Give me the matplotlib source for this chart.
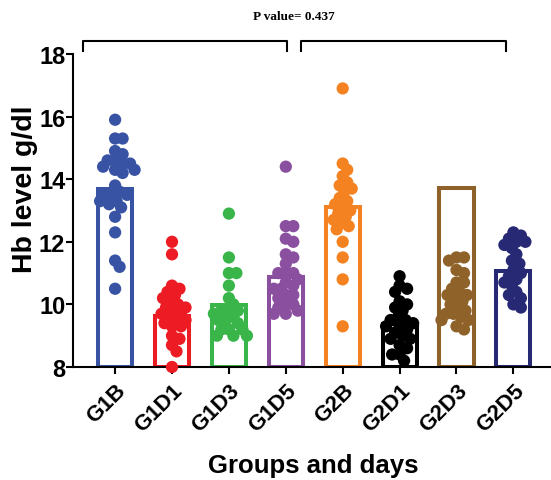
import numpy as np
import matplotlib.pyplot as plt

groups = ["G1B", "G1D1", "G1D3", "G1D5", "G2B", "G2D1", "G2D3", "G2D5"]
bar_heights = [13.69, 9.63, 9.98, 10.87, 13.11, 9.37, 13.72, 11.07]
colors = ["#3953A4", "#ED1C24", "#39B54A", "#8B4F9F",
          "#F58220", "#000000", "#8E6228", "#272975"]

g1b = [15.9, 15.3, 15.3, 14.9, 14.8, 14.6, 14.6, 14.5, 14.5, 14.4, 14.3, 14.3,
       14.2, 13.8, 13.6, 13.5, 13.5, 13.5, 13.3, 13.3, 13.2, 13.1, 12.8, 12.3,
       11.4, 11.2, 10.5]
g1d1 = [12.0, 11.6, 10.6, 10.5, 10.4, 10.3, 10.2, 10.1, 10.0, 9.9, 9.9, 9.8,
        9.7, 9.7, 9.6, 9.5, 9.5, 9.4, 9.3, 9.3, 9.0, 8.9, 8.7, 8.5, 8.0]
g1d3 = [12.9, 11.5, 11.0, 11.0, 10.6, 10.2, 10.0, 9.8, 9.8, 9.8, 9.7, 9.6,
        9.5, 9.5, 9.4, 9.2, 9.2, 9.2, 9.0, 9.0, 9.0]
g1d5 = [14.4, 12.5, 12.5, 12.1, 12.0, 11.6, 11.5, 11.3, 11.0, 11.0, 11.0,
        10.8, 10.7, 10.6, 10.5, 10.5, 10.3, 10.3, 10.2, 10.0, 10.0, 9.9, 9.8,
        9.7, 9.7]
g2b = [16.9, 14.5, 14.3, 14.1, 13.9, 13.8, 13.7, 13.6, 13.4, 13.3, 13.2, 13.1,
       13.0, 12.9, 12.8, 12.7, 12.6, 12.5, 12.4, 12.0, 11.5, 10.8, 9.3]
g2d1 = [10.9, 10.6, 10.5, 10.4, 10.1, 10.0, 9.9, 9.8, 9.6, 9.5, 9.5, 9.4, 9.3,
        9.3, 9.2, 9.1, 9.0, 8.9, 8.9, 8.7, 8.6, 8.4, 8.4, 8.2]
g2d3 = [11.5, 11.5, 11.4, 11.1, 11.0, 10.7, 10.7, 10.5, 10.4, 10.3, 10.3,
        10.2, 10.1, 10.0, 9.9, 9.8, 9.7, 9.7, 9.6, 9.5, 9.5, 9.3, 9.2]
g2d5 = [12.3, 12.2, 12.1, 12.0, 12.0, 11.9, 11.8, 11.6, 11.4, 11.3, 11.1,
        11.0, 10.9, 10.8, 10.7, 10.6, 10.4, 10.3, 10.2, 10.0, 9.9]
points = [g1b, g1d1, g1d3, g1d5, g2b, g2d1, g2d3, g2d5]

p_text = "P value= 0.437"


def swarm(vals, xscale, yscale, dmin=7.0, step=1.5):
    # simple beeswarm in pixel space, returns x offsets in data units
    placed = []
    offs = []
    for v in vals:
        y = v * yscale
        k = 0
        while True:
            cands = [0.0] if k == 0 else [k * step, -k * step]
            ok = None
            for c in cands:
                if all((c - px) ** 2 + (y - py) ** 2 >= dmin ** 2 for px, py in placed):
                    ok = c
                    break
            if ok is not None:
                placed.append((ok, y))
                offs.append(ok / xscale)
                break
            k += 1
    return offs


plt.rcParams['font.family'] = ['Liberation Sans', 'DejaVu Sans']
fig = plt.figure(figsize=(5.51, 4.81), dpi=100)
ax = fig.add_axes([73 / 551, 113 / 481, 482.5 / 551, 313 / 481])
ax.set_xlim(-0.74, 7.74)
ax.set_ylim(8, 18)

xs = np.arange(len(groups))
ax.bar(xs, [h - 8 for h in bar_heights], bottom=8, width=0.6, facecolor="white",
       edgecolor=colors, linewidth=2.9, zorder=2)

xscale = 56.9
yscale = 31.3
for i, vals in enumerate(points):
    offs = swarm(vals, xscale, yscale)
    ax.scatter(xs[i] + np.array(offs), vals, s=78, color=colors[i],
               edgecolors="none", zorder=3, clip_on=False)

for s in ["top", "right"]:
    ax.spines[s].set_visible(False)
ax.spines["left"].set_linewidth(1.5)
ax.spines["bottom"].set_linewidth(1.5)
ax.set_xticks(xs)
ax.set_xticklabels(groups, rotation=45, ha="right", rotation_mode="anchor",
                   fontsize=16, fontweight="bold")
ax.set_yticks([8, 10, 12, 14, 16, 18])
ax.tick_params(axis="y", labelsize=17, width=1.5, length=5, pad=0.5)
ax.tick_params(axis="x", width=1.5, length=5, pad=4)
for lab in ax.get_yticklabels():
    lab.set_fontweight("bold")
ax.set_ylabel("Hb level g/dl", fontsize=20.5, fontweight="bold")
ax.yaxis.set_label_coords(-0.072, 0.57)
ax.set_xlabel("Groups and days", fontsize=18.5, fontweight="bold")
ax.xaxis.set_label_coords(0.497, -0.275)

# significance brackets
for x0, x1 in [(-0.56, 3.02), (3.27, 6.87)]:
    ax.plot([x0, x0, x1, x1], [18.1, 18.42, 18.42, 18.1], color="black",
            lw=1.5, clip_on=False)
ax.text(3.15, 19.22, p_text, ha="center", va="center", fontsize=9.5,
        fontweight="bold", family=["Liberation Serif"])

fig.savefig("out.png", dpi=100)
